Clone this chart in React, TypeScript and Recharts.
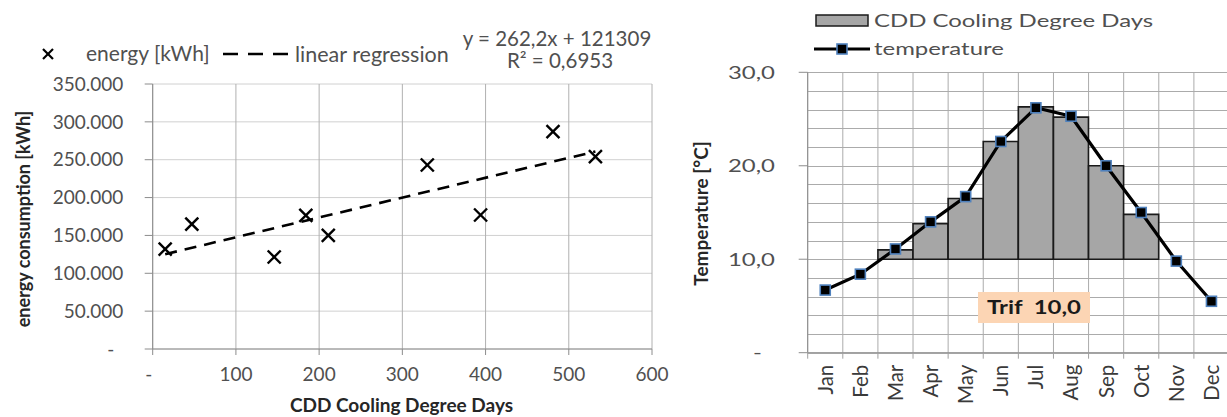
import React from 'react';
import { ComposedChart, Scatter, XAxis, YAxis, CartesianGrid, Line, Bar } from 'recharts';

// ---------- left chart data ----------
const cddX = [15, 47, 146, 184, 211, 330, 394, 481, 532];
const energyY = [132000, 165000, 121500, 176500, 150000, 243000, 177000, 287000, 254000];
const regressionX = [15, 532];
const regressionY = [125242, 260799];
const energyTicks = [0, 50000, 100000, 150000, 200000, 250000, 300000, 350000];
const cddTicks = [0, 100, 200, 300, 400, 500, 600];

// ---------- right chart data ----------
const months = ['Jan', 'Feb', 'Mar', 'Apr', 'May', 'Jun', 'Jul', 'Aug', 'Sep', 'Oct', 'Nov', 'Dec'];
const temperature = [6.7, 8.4, 11.1, 14.0, 16.7, 22.6, 26.2, 25.3, 20.0, 15.0, 9.8, 5.5];
const cddBarTop = [null, null, 11.0, 13.8, 16.5, 22.6, 26.3, 25.2, 20.0, 14.8, null, null];
const trif = 10;
const tempTicks = [0, 10, 20, 30];
const tempGridValues = [0, 2, 4, 6, 8, 10, 12, 14, 16, 18, 20, 22, 24, 26, 28, 30];

const energyPoints = cddX.map((x, i) => ({ x, y: energyY[i] }));
const regressionPoints = regressionX.map((x, i) => ({ x, y: regressionY[i] }));
const monthData = months.map((m, i) => ({
  month: m,
  temp: temperature[i],
  cdd: cddBarTop[i] == null ? null : [trif, cddBarTop[i]],
}));

const FONT = 'Lato, "Open Sans", sans-serif';
const TICK_COLOR = '#505050';
const TITLE_COLOR = '#262626';
const SX = 1.33;

const fmtEnergy = (v: number) => (v === 0 ? '-' : v.toLocaleString('de-DE'));
const fmtTemp = (v: number) => (v === 0 ? '-' : v.toFixed(1).replace('.', ','));

const LeftYTick = (props: any) => {
  const { x, y, payload } = props;
  const v = payload.value;
  return (
    <text x={x - (v === 0 ? 9 : 0)} y={y} dy="0.35em" textAnchor="end" fontSize={19} fill={TICK_COLOR} fontFamily={FONT}>
      {fmtEnergy(v)}
    </text>
  );
};

const LeftXTick = (props: any) => {
  const { x, y, payload } = props;
  const v = payload.value;
  return (
    <text x={x - (v === 0 ? 4 : 0)} y={y} dy="0.71em" textAnchor="middle" fontSize={19} fill={TICK_COLOR} fontFamily={FONT}>
      {v === 0 ? '-' : String(v)}
    </text>
  );
};

const Cross = (props: any) => {
  const { cx, cy } = props;
  if (cx == null || cy == null) return <g />;
  const r = 6.5;
  return (
    <g stroke="#000" strokeWidth={2.4}>
      <line x1={cx - r} y1={cy - r} x2={cx + r} y2={cy + r} />
      <line x1={cx - r} y1={cy + r} x2={cx + r} y2={cy - r} />
    </g>
  );
};

const NoShape = () => <g />;

// right chart layout
const R_LEFT = 680;
const R_YAXIS_W = 127.7;
const R_TOP = 72.3;
const R_XAXIS_H = 64.3;
const R_HEIGHT = 417 - R_XAXIS_H - R_TOP;
const RIGHT_PLOT_W = 421.3;
const BAND = RIGHT_PLOT_W / months.length;
const TEMP_MAX = 30;
const gridY = (v: number) => Math.round(R_TOP + R_HEIGHT * (1 - v / TEMP_MAX)) + 0.5;

const RightYTick = (props: any) => {
  const { x, y, payload } = props;
  const v = payload.value;
  return (
    <text
      transform={`translate(${x - (v === 0 ? 13 : 0)},${y}) scale(${SX},1)`}
      dy="0.35em"
      textAnchor="end"
      fontSize={18}
      fill={TICK_COLOR}
      fontFamily={FONT}
    >
      {fmtTemp(v)}
    </text>
  );
};

const RightXTick = (props: any) => {
  const { x, y, payload, index } = props;
  const top = y - 12;
  return (
    <g>
      <line x1={x - BAND / 2} y1={top} x2={x - BAND / 2} y2={top + 6} stroke="#a0a0a0" />
      {index === months.length - 1 && (
        <line x1={x + BAND / 2} y1={top} x2={x + BAND / 2} y2={top + 6} stroke="#a0a0a0" />
      )}
      <text
        transform={`translate(${x},${y}) rotate(-90)`}
        dy="0.36em"
        textAnchor="end"
        fontSize={20.5}
        fill="#3a3a3a"
        fontFamily={FONT}
      >
        {payload.value}
      </text>
    </g>
  );
};

const SquareDot = (props: any) => {
  const { cx, cy } = props;
  if (cx == null || cy == null) return <g />;
  const s = 10;
  return <rect x={cx - s / 2} y={cy - s / 2} width={s} height={s} fill="#000" stroke="#4f81bd" strokeWidth={1.6} />;
};

export default function App() {
  return (
    <div style={{ position: 'fixed', left: 0, top: 0, width: 1227, height: 417, overflow: 'hidden', background: '#fff', fontFamily: FONT }}>
      {/* underlay: horizontal grid of the right chart (beneath the bars) */}
      <svg width={1227} height={417} style={{ position: 'absolute', left: 0, top: 0, zIndex: 0 }}>
        {tempGridValues.map((v) => (
          <line
            key={v}
            x1={R_LEFT + R_YAXIS_W}
            x2={1227}
            y1={gridY(v)}
            y2={gridY(v)}
            stroke="#ababab"
            strokeWidth={1.2}
          />
        ))}
      </svg>

      {/* LEFT CHART */}
      <div style={{ position: 'absolute', left: 0, top: 0, zIndex: 1 }}>
        <ComposedChart width={670} height={417} margin={{ top: 84, right: 18, bottom: 38, left: 0 }}>
          <CartesianGrid horizontal={true} vertical={false} stroke="#d0d0d0" strokeWidth={1} />
          <CartesianGrid horizontal={false} vertical={true} stroke="#b0b0b0" strokeWidth={1} />
          <XAxis
            type="number"
            dataKey="x"
            domain={[0, 600]}
            ticks={cddTicks}
            interval={0}
            height={30}
            tickSize={6}
            tickMargin={13}
            stroke="#8c8c8c"
            tick={<LeftXTick />}
            allowDataOverflow
          />
          <YAxis
            type="number"
            dataKey="y"
            domain={[0, 350000]}
            ticks={energyTicks}
            interval={0}
            width={152.7}
            tickSize={8}
            tickMargin={21.4}
            stroke="#8c8c8c"
            tick={<LeftYTick />}
            allowDataOverflow
          />
          <Scatter
            data={regressionPoints}
            line={{ stroke: '#000', strokeWidth: 2.6, strokeDasharray: '12 8' }}
            lineType="joint"
            shape={NoShape}
            isAnimationActive={false}
          />
          <Scatter data={energyPoints} shape={Cross} isAnimationActive={false} />
        </ComposedChart>
      </div>

      {/* RIGHT CHART */}
      <div style={{ position: 'absolute', left: R_LEFT, top: 0, zIndex: 1, background: 'transparent' }}>
        <ComposedChart
          width={560}
          height={417}
          data={monthData}
          margin={{ top: R_TOP, right: 560 - R_YAXIS_W - RIGHT_PLOT_W, bottom: 0, left: 0 }}
          barCategoryGap={0}
          barGap={0}
          style={{ background: 'transparent' }}
        >
          <CartesianGrid
            stroke="#ababab"
            horizontalPoints={tempGridValues.map((v) => gridY(v))}
            verticalCoordinatesGenerator={(p: any) => {
              const off = p.offset;
              const w = off.width / months.length;
              return months.map((_, i) => off.left + i * w).concat([off.left + off.width]);
            }}
          />
          <XAxis
            dataKey="month"
            type="category"
            interval={0}
            height={R_XAXIS_H}
            tickLine={false}
            tickSize={6}
            tickMargin={6}
            stroke="#8c8c8c"
            tick={<RightXTick />}
          />
          <YAxis
            type="number"
            domain={[0, TEMP_MAX]}
            ticks={tempTicks}
            interval={0}
            width={R_YAXIS_W}
            tickSize={9}
            tickMargin={23.7}
            stroke="#8c8c8c"
            tick={<RightYTick />}
            allowDataOverflow
          />
          <Bar dataKey="cdd" fill="#a6a6a6" stroke="#1a1a1a" strokeWidth={1.6} isAnimationActive={false} />
          <Line
            dataKey="temp"
            type="linear"
            stroke="#000"
            strokeWidth={3.2}
            dot={<SquareDot />}
            activeDot={false}
            isAnimationActive={false}
          />
        </ComposedChart>
      </div>

      {/* TEXT OVERLAY */}
      <svg width={1227} height={417} style={{ position: 'absolute', left: 0, top: 0, pointerEvents: 'none', zIndex: 2 }} fontFamily={FONT}>
        {/* left legend */}
        <g stroke="#000" strokeWidth={2.2}>
          <line x1={43} y1={49} x2={53} y2={59} />
          <line x1={43} y1={59} x2={53} y2={49} />
        </g>
        <text x={86} y={54} dy="0.35em" fontSize={21} fill={TICK_COLOR}>energy [kWh]</text>
        <line x1={223} y1={54} x2={288} y2={54} stroke="#000" strokeWidth={2.6} strokeDasharray="15 10" />
        <text x={295} y={54} dy="0.35em" fontSize={21.5} fill={TICK_COLOR}>linear regression</text>
        <text x={557} y={39} dy="0.35em" textAnchor="middle" fontSize={20.5} fill={TICK_COLOR}>y = 262,2x + 121309</text>
        <text x={560} y={61} dy="0.35em" textAnchor="middle" fontSize={20.5} fill={TICK_COLOR}>R² = 0,6953</text>
        {/* left axis titles */}
        <text x={401.5} y={405} dy="0.35em" textAnchor="middle" fontSize={19} fontWeight="bold" fill={TITLE_COLOR}>
          CDD Cooling Degree Days
        </text>
        <text transform="translate(24,219) rotate(-90)" dy="0.35em" textAnchor="middle" fontSize={18} fontWeight="bold" fill={TITLE_COLOR}>
          energy consumption [kWh]
        </text>

        {/* right legend */}
        <rect x={816} y={15} width={52} height={11} fill="#a6a6a6" stroke="#1a1a1a" strokeWidth={1.5} />
        <text transform={`translate(874,20.5) scale(${SX},1)`} dy="0.35em" fontSize={18} fill={TICK_COLOR}>CDD Cooling Degree Days</text>
        <line x1={814} y1={49} x2={870} y2={49} stroke="#000" strokeWidth={3} />
        <rect x={837} y={44} width={10} height={10} fill="#000" stroke="#4f81bd" strokeWidth={1.6} />
        <text transform={`translate(874,49) scale(${SX},1)`} dy="0.35em" fontSize={18} fill={TICK_COLOR}>temperature</text>
        {/* right axis title */}
        <text transform="translate(701,213.5) rotate(-90)" dy="0.35em" textAnchor="middle" fontSize={19} fontWeight="bold" fill={TITLE_COLOR}>
          Temperature [°C]
        </text>
        {/* Trif box */}
        <rect x={978} y={292} width={112} height={31} fill="#fcd5b4" />
        <text transform={`translate(1034,307.5) scale(${SX},1)`} dy="0.35em" textAnchor="middle" fontSize={18} fontWeight="bold" fill="#1a1a1a">
          Trif{'\u00a0\u00a0'}10,0
        </text>
      </svg>
    </div>
  );
}
